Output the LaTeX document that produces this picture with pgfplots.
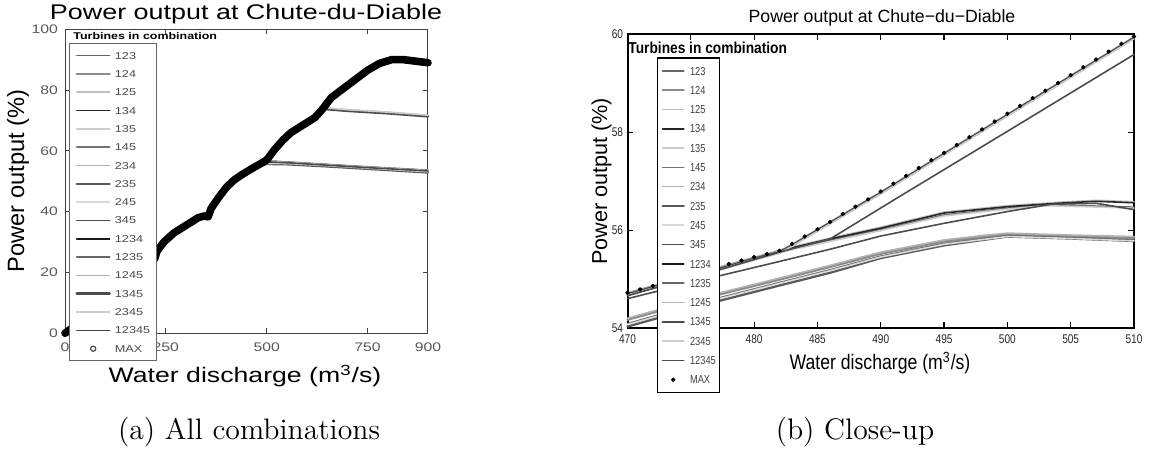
\documentclass[border=0pt]{standalone}
\usepackage{fontspec}
\usepackage{pgfplots}
\pgfplotsset{compat=1.18}
\usepackage{pgfplotstable}
\newfontfamily\lsans[FakeStretch=1.27]{Liberation Sans}
\newfontfamily\plainsans{Liberation Sans}
\newfontfamily\rsans[FakeStretch=0.84]{Liberation Sans}
\newfontfamily\rcond[FakeStretch=0.8]{Liberation Sans}
\newfontfamily\rbold[FakeStretch=0.87]{Liberation Sans}

\pgfplotsset{
  c123/.style={black!60, line width=0.8pt},
  c124/.style={black!45, line width=1.2pt},
  c125/.style={black!25, line width=0.8pt},
  c134/.style={black!85, line width=0.8pt},
  c135/.style={black!20, line width=0.8pt},
  c145/.style={black!55, line width=0.8pt},
  c234/.style={black!30, line width=0.8pt},
  c235/.style={black!65, line width=1.2pt},
  c245/.style={black!15, line width=0.8pt},
  c345/.style={black!70, line width=0.8pt},
  c1234/.style={black!90, line width=0.8pt},
  c1235/.style={black!60, line width=0.8pt},
  c1245/.style={black!30, line width=0.8pt},
  c1345/.style={black!70, line width=1.2pt},
  c2345/.style={black!20, line width=0.8pt},
  c12345/.style={black!70, line width=0.8pt},
  every axis plot/.append style={line join=round, line cap=round},
}

\pgfplotstableread{
x y
0 0
100 10
211 22.5
223 24.7
228 27
245 30
270 33
300 35.5
330 38
345 38.6
355 38.3
362 41
380 44.5
400 48
420 50.5
440 52.3
465 54.3
490 56.2
500 57
520 60.5
540 63.5
560 66
590 68.5
620 71
640 74
660 77.5
690 80.5
720 83.5
750 86.5
780 88.8
810 90
840 90
870 89.5
900 89
}\maxL

\pgfplotstableread{
x y
470 54.72
471 54.79
472 54.86
473 54.93
474 55.01
475 55.08
476 55.15
477 55.22
478 55.31
479 55.38
480 55.45
481 55.51
482 55.58
483 55.72
484 55.87
485 56.02
486 56.17
487 56.33
488 56.48
489 56.63
490 56.79
491 56.95
492 57.11
493 57.27
494 57.43
495 57.58
496 57.74
497 57.90
498 58.06
499 58.22
500 58.38
501 58.54
502 58.70
503 58.85
504 59.01
505 59.17
506 59.33
507 59.49
508 59.65
509 59.81
510 59.96
}\maxR

\begin{document}
\begin{tikzpicture}
\useasboundingbox (0,0) rectangle (579pt,226.5pt);

% ---------------- left panel ----------------
\begin{axis}[
  at={(32.5pt,59.85pt)}, anchor=south west,
  scale only axis, width=181.5pt, height=152pt,
  xmin=0, xmax=900, ymin=0, ymax=100,
  xtick={0,250,500,750,900}, ytick={0,20,40,60,80,100},
  clip=false,
  axis line style={black!75, line width=0.5pt},
  tick style={black!75, line width=0.5pt},
  major tick length=2.5pt, tick align=inside,
  /pgf/number format/assume math mode=true,
  ticklabel style={font=\lsans\fontsize{6.2}{7}\selectfont, text=black!65},
  xticklabel style={inner sep=0pt, yshift=-4.5pt},
  yticklabel style={inner sep=0pt, xshift=-3.3pt},
  legend style={at={(axis description cs:0.011,0.954)}, anchor=north west,
    draw=black!60, line width=0.5pt, fill=white,
    inner xsep=3pt, inner ysep=1.3pt, row sep=0pt,
    font=\lsans\fontsize{5}{6}\selectfont, text=black!70,
    nodes={inner sep=0pt, text height=6.37pt, text depth=2.79pt},
    /tikz/every odd column/.append style={column sep=2pt}},
  legend cell align=left,
  legend image code/.code={\draw[mark repeat=2,mark phase=2,#1] plot coordinates {(0pt,0pt) (8.25pt,0pt) (16.5pt,0pt)};},
]
\addplot[c123] coordinates {(465,54.15) (490,56.05) (497,56.55) (550,56.15) (650,55.35) (750,54.55) (900,53.45)};
\addplot[c124] coordinates {(465,54.0) (490,55.6) (500,55.9) (550,55.8) (650,55.1) (750,54.3) (900,53.1)};
\addplot[c125] coordinates {(465,54.4) (490,56.3) (497,56.8) (550,56.4) (650,55.6) (750,54.8) (900,53.7)};
\addplot[c134] coordinates {(465,54.3) (490,56.2) (497,56.7) (550,56.3) (650,55.5) (750,54.7) (900,53.6)};
\addplot[c135] coordinates {(465,54.25) (490,56.15) (497,56.65) (550,56.25) (650,55.45) (750,54.65) (900,53.55)};
\addplot[c145] coordinates {(465,53.9) (490,55.5) (500,55.8) (550,55.7) (650,55.0) (750,54.2) (900,53.0)};
\addplot[c234] coordinates {(465,54.1) (490,55.7) (500,56.0) (550,55.9) (650,55.2) (750,54.4) (900,53.2)};
\addplot[c235] coordinates {(465,53.8) (490,55.4) (500,55.7) (550,55.6) (650,54.9) (750,54.1) (900,52.9)};
\addplot[c245] coordinates {(465,54.05) (490,55.65) (500,55.95) (550,55.85) (650,55.15) (750,54.35) (900,53.15)};
\addplot[c345] coordinates {(465,54.1) (490,55.9) (500,56.4) (550,56.1) (650,55.3) (750,54.5) (900,53.4)};
\addplot[c1234] coordinates {(465,54.3) (490,56.2) (500,57) (520,60.5) (540,63.5) (560,66) (590,68.5) (620,71) (645,74.0) (700,73.4) (800,72.6) (900,71.6)};
\addplot[c1235] coordinates {(465,54.3) (490,56.2) (500,57) (520,60.5) (540,63.5) (560,66) (590,68.5) (620,71) (645,73.85) (700,73.25) (800,72.45) (900,71.45)};
\addplot[c1245] coordinates {(465,54.3) (490,56.2) (500,57) (520,60.5) (540,63.5) (560,66) (590,68.5) (620,71) (645,74.1) (700,73.5) (800,72.7) (900,71.7)};
\addplot[c1345] coordinates {(465,54.3) (490,56.2) (500,57) (520,60.5) (540,63.5) (560,66) (590,68.5) (620,71) (645,73.75) (700,73.15) (800,72.35) (900,71.35)};
\addplot[c2345] coordinates {(465,54.3) (490,56.2) (500,57) (520,60.5) (540,63.5) (560,66) (590,68.5) (620,71) (645,74.15) (700,73.55) (800,72.75) (900,71.75)};
\addplot[c12345] coordinates {(465,54.3) (490,56.2) (500,57) (520,60.5) (540,63.5) (560,66) (590,68.5) (620,71) (640,74) (660,77.5) (690,80.5) (720,83.5) (750,86.5) (780,88.8) (810,90) (840,90) (870,89.5) (900,89)};
\addplot[black, line width=3.8pt, forget plot] table[x=x, y=y] {\maxL};
\addlegendimage{only marks, mark=o, mark size=1.3pt, black!70, line width=0.6pt}
\legend{123,124,125,134,135,145,234,235,245,345,1234,1235,1245,1345,2345,12345,MAX}
\end{axis}

% ---------------- right panel ----------------
\begin{axis}[
  at={(313.75pt,62.5pt)}, anchor=south west,
  scale only axis, width=253.25pt, height=146.75pt,
  xmin=470, xmax=510, ymin=54, ymax=60,
  xtick={470,475,...,510}, xticklabels={470,,480,485,490,495,500,505,510},
  ytick={54,56,58,60},
  clip=false,
  axis line style={black, line width=1pt},
  tick style={black, line width=0.6pt},
  major tick length=2.8pt, tick align=inside,
  /pgf/number format/assume math mode=true,
  ticklabel style={font=\rcond\fontsize{6.3}{7}\selectfont, text=black!85},
  xticklabel style={inner sep=0pt, yshift=-3.2pt},
  yticklabel style={inner sep=0pt, xshift=-2pt},
  legend style={at={(axis description cs:0.058,0.923)}, anchor=north west,
    draw=black, line width=0.75pt, fill=white,
    inner xsep=1.9pt, inner ysep=1.7pt, row sep=0pt,
    font=\rcond\fontsize{5.8}{7}\selectfont, text=black!75,
    nodes={inner sep=0pt, text height=6.9pt, text depth=2.75pt},
    /tikz/every odd column/.append style={column sep=2.5pt}},
  legend cell align=left,
  legend image code/.code={\draw[mark repeat=2,mark phase=2,#1] plot coordinates {(0pt,0pt) (5.3pt,0pt) (10.6pt,0pt)};},
]
\addplot[c123] coordinates {(470,54.68) (477,55.19) (482,55.55) (483,55.62) (486,55.79) (490,56.01) (495,56.31) (500,56.45) (503,56.52) (506,56.50) (510,56.47)};
\addplot[c124] coordinates {(470,54.17) (477,54.67) (482,54.99) (486,55.25) (490,55.52) (495,55.77) (498,55.86) (500,55.91) (505,55.87) (510,55.84)};
\addplot[c125] coordinates {(470,54.72) (477,55.23) (482,55.59) (483,55.66) (486,55.84) (490,56.06) (495,56.37) (500,56.50) (504,56.57) (507,56.61) (510,56.58)};
\addplot[c134] coordinates {(470,54.70) (477,55.21) (482,55.57) (483,55.64) (486,55.82) (490,56.04) (495,56.35) (500,56.48) (504,56.55) (507,56.59) (510,56.56)};
\addplot[c135] coordinates {(470,54.66) (477,55.17) (482,55.53) (483,55.60) (486,55.77) (490,55.99) (495,56.29) (500,56.43) (503,56.50) (506,56.48) (510,56.45)};
\addplot[c145] coordinates {(470,54.09) (477,54.60) (482,54.93) (486,55.19) (490,55.47) (495,55.73) (500,55.89) (505,55.85) (510,55.80)};
\addplot[c234] coordinates {(470,54.20) (477,54.70) (482,55.02) (486,55.28) (490,55.55) (495,55.80) (498,55.89) (500,55.94) (505,55.90) (510,55.87)};
\addplot[c235] coordinates {(470,54.03) (477,54.54) (482,54.87) (486,55.13) (490,55.43) (495,55.69) (500,55.87) (505,55.83) (510,55.78)};
\addplot[c245] coordinates {(470,54.07) (477,54.58) (482,54.91) (486,55.17) (490,55.45) (495,55.71) (500,55.87) (505,55.83) (510,55.78)};
\addplot[c345] coordinates {(470,54.60) (477,55.05) (482,55.36) (486,55.61) (490,55.88) (495,56.14) (500,56.38) (503.5,56.53) (507,56.55) (510,56.42)};
\addplot[c1234] coordinates {(470,54.70) (474,54.99) (477,55.20) (480,55.43) (482,55.56) (483,55.70) (490,56.77) (500,58.36) (510,59.94)};
\addplot[c1235] coordinates {(470,54.68) (474,54.97) (477,55.18) (480,55.41) (482,55.54) (483,55.68) (490,56.75) (500,58.34) (510,59.92)};
\addplot[c1245] coordinates {(470,54.71) (474,55.00) (477,55.21) (480,55.44) (482,55.57) (483,55.71) (490,56.78) (500,58.37) (510,59.95)};
\addplot[c1345] coordinates {(470,54.69) (474,54.98) (477,55.19) (480,55.42) (482,55.55) (483,55.69) (490,56.76) (500,58.35) (510,59.93)};
\addplot[c2345] coordinates {(470,54.67) (474,54.96) (477,55.17) (480,55.40) (482,55.53) (483,55.67) (490,56.74) (500,58.33) (510,59.91)};
\addplot[c12345] coordinates {(470,54.66) (477,55.17) (482,55.55) (483,55.62) (486,55.82) (491.5,56.69) (500,58.02) (510,59.59)};
\addplot[only marks, mark=*, mark size=0.9pt, black, line width=0.4pt] table[x=x, y=y] {\maxR};
\legend{123,124,125,134,135,145,234,235,245,345,1234,1235,1245,1345,2345,12345,MAX}
\end{axis}

% ---------------- texts ----------------
\node[anchor=base, font=\lsans\fontsize{10.6}{12}\selectfont, inner sep=0pt] at (123pt,216.85pt) {Power output at Chute-du-Diable};
\node[anchor=base, font=\lsans\fontsize{10.5}{12}\selectfont, inner sep=0pt] at (122.5pt,35pt) {Water discharge (m\textsuperscript{3}/s)};
\node[anchor=base, rotate=90, font=\plainsans\fontsize{11.8}{13}\selectfont, inner sep=0pt] at (12pt,136pt) {Power output (\%)};
\node[anchor=base west, font=\lsans\bfseries\fontsize{4.9}{6}\selectfont, inner sep=0pt] at (36.5pt,206.5pt) {Turbines in combination};
\node[anchor=base, font=\fontsize{14.85}{18}\selectfont, inner sep=0pt] at (124.5pt,6.75pt) {(a) All combinations};

\node[anchor=base, font=\plainsans\fontsize{8.85}{10}\selectfont, inner sep=0pt] at (441pt,215.15pt) {Power output at Chute−du−Diable};
\node[anchor=base, font=\rsans\fontsize{10.5}{12}\selectfont, inner sep=0pt] at (440pt,41.5pt) {Water discharge (m\textsuperscript{3}/s)};
\node[anchor=base, rotate=90, font=\plainsans\fontsize{10.8}{12}\selectfont, inner sep=0pt] at (303.5pt,135.75pt) {Power output (\%)};
\node[anchor=base west, font=\rbold\bfseries\fontsize{7.9}{9}\selectfont, inner sep=0pt] at (314pt,199.5pt) {Turbines in combination};
\node[anchor=base, font=\fontsize{14.85}{18}\selectfont, inner sep=0pt] at (427.5pt,6.5pt) {(b) Close-up};
\end{tikzpicture}
\end{document}
